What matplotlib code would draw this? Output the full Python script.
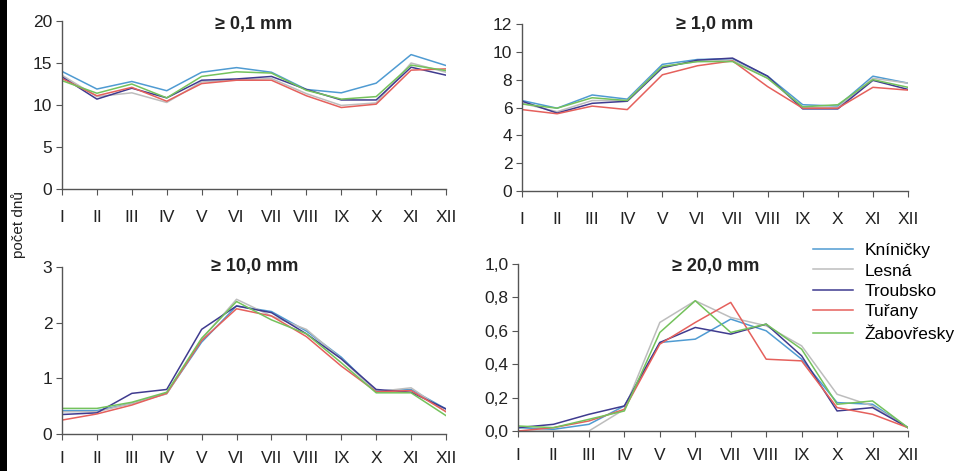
import matplotlib
matplotlib.use("Agg")
import matplotlib.pyplot as plt
from matplotlib.patches import Rectangle

plt.rcParams['font.family'] = ['Liberation Sans', 'DejaVu Sans']

months = ["I", "II", "III", "IV", "V", "VI", "VII", "VIII", "IX", "X", "XI", "XII"]
stations = ["Kníničky", "Lesná", "Troubsko", "Tuřany", "Žabovřesky"]
colors = ["#4f9bd2", "#bdbdbd", "#3f3b8f", "#e5605c", "#74c25c"]

# >= 0.1 mm
p01_kninicky = [14.0, 11.9, 12.8, 11.7, 13.9, 14.45, 13.9, 11.85, 11.45, 12.6, 16.0, 14.7]
p01_lesna = [13.55, 11.0, 11.45, 10.3, 12.75, 13.0, 13.15, 11.35, 9.95, 10.25, 15.0, 13.9]
p01_troubsko = [13.35, 10.7, 12.0, 10.85, 12.95, 13.1, 13.4, 11.85, 10.6, 10.6, 14.5, 13.55]
p01_turany = [13.15, 11.1, 12.1, 10.45, 12.55, 12.95, 12.95, 11.1, 9.7, 10.1, 14.15, 14.3]
p01_zabovresky = [12.9, 11.4, 12.5, 10.85, 13.4, 13.95, 13.8, 11.75, 10.7, 11.0, 14.75, 14.1]

# >= 1.0 mm
p1_kninicky = [6.5, 5.95, 6.9, 6.6, 9.1, 9.45, 9.5, 8.25, 6.2, 6.1, 8.25, 7.75]
p1_lesna = [6.3, 5.7, 6.5, 6.5, 8.95, 9.3, 9.4, 8.1, 6.0, 6.0, 8.1, 7.75]
p1_troubsko = [6.45, 5.6, 6.3, 6.45, 8.85, 9.4, 9.55, 8.25, 5.9, 5.9, 7.95, 7.3]
p1_turany = [5.85, 5.55, 6.1, 5.85, 8.35, 9.0, 9.35, 7.5, 5.95, 5.95, 7.45, 7.25]
p1_zabovresky = [6.25, 5.95, 6.7, 6.5, 8.95, 9.3, 9.3, 8.1, 6.05, 6.2, 8.0, 7.45]

# >= 10.0 mm
p10_kninicky = [0.42, 0.42, 0.55, 0.73, 1.65, 2.30, 2.20, 1.85, 1.38, 0.77, 0.80, 0.45]
p10_lesna = [0.40, 0.40, 0.55, 0.72, 1.70, 2.42, 2.12, 1.88, 1.35, 0.76, 0.83, 0.40]
p10_troubsko = [0.35, 0.38, 0.73, 0.80, 1.88, 2.30, 2.18, 1.80, 1.35, 0.80, 0.75, 0.45]
p10_turany = [0.25, 0.36, 0.52, 0.73, 1.68, 2.25, 2.12, 1.75, 1.22, 0.76, 0.78, 0.40]
p10_zabovresky = [0.46, 0.46, 0.57, 0.75, 1.72, 2.38, 2.05, 1.80, 1.28, 0.74, 0.74, 0.33]

# >= 20.0 mm
p20_kninicky = [0.02, 0.01, 0.04, 0.15, 0.53, 0.55, 0.67, 0.60, 0.43, 0.17, 0.16, 0.02]
p20_lesna = [0.0, 0.0, 0.0, 0.13, 0.65, 0.78, 0.68, 0.63, 0.51, 0.22, 0.15, 0.02]
p20_troubsko = [0.02, 0.04, 0.10, 0.15, 0.53, 0.62, 0.58, 0.64, 0.45, 0.12, 0.14, 0.02]
p20_turany = [0.0, 0.02, 0.06, 0.13, 0.52, 0.65, 0.77, 0.43, 0.42, 0.14, 0.10, 0.02]
p20_zabovresky = [0.03, 0.02, 0.07, 0.12, 0.59, 0.78, 0.59, 0.64, 0.49, 0.16, 0.18, 0.02]

panels = [
    ("≥ 0,1 mm", [p01_kninicky, p01_lesna, p01_troubsko, p01_turany, p01_zabovresky],
     [0, 5, 10, 15, 20], ["0", "5", "10", "15", "20"]),
    ("≥ 1,0 mm", [p1_kninicky, p1_lesna, p1_troubsko, p1_turany, p1_zabovresky],
     [0, 2, 4, 6, 8, 10, 12], ["0", "2", "4", "6", "8", "10", "12"]),
    ("≥ 10,0 mm", [p10_kninicky, p10_lesna, p10_troubsko, p10_turany, p10_zabovresky],
     [0, 1, 2, 3], ["0", "1", "2", "3"]),
    ("≥ 20,0 mm", [p20_kninicky, p20_lesna, p20_troubsko, p20_turany, p20_zabovresky],
     [0, 0.2, 0.4, 0.6, 0.8, 1.0], ["0,0", "0,2", "0,4", "0,6", "0,8", "1,0"]),
]

W, H = 955, 471
fig = plt.figure(figsize=(W / 100, H / 100), dpi=100)

# axes boxes in pixels: left, right, top, bottom ; title centre (x, y) ; x label pad
boxes = [(62, 446, 21, 189), (522, 908, 24, 191), (62, 446, 267, 434), (518, 908, 264, 431)]
title_pos = [(254, 25), (715, 24), (255, 266), (716, 266)]
xpads = [11, 11, 8, 8]

x = list(range(len(months)))
for (title, series, yt, ytl), (l, r, t, b), (tx, ty), xp in zip(panels, boxes, title_pos, xpads):
    ax = fig.add_axes([l / W, 1 - b / H, (r - l) / W, (b - t) / H])
    for name, vals, c in zip(stations, series, colors):
        ax.plot(x, vals, color=c, lw=1.1, label=name)
    ax.set_xlim(0, 11)
    ax.set_ylim(yt[0], yt[-1])
    ax.set_xticks(x)
    ax.set_xticklabels(months)
    ax.set_yticks(yt)
    ax.set_yticklabels(ytl)
    for s in ("top", "right"):
        ax.spines[s].set_visible(False)
    for s in ("left", "bottom"):
        ax.spines[s].set_color("#555555")
        ax.spines[s].set_linewidth(1.0)
    ax.tick_params(axis="x", direction="out", length=4, pad=xp, labelsize=12.5,
                   color="#555555", labelcolor="#222222")
    ax.tick_params(axis="y", direction="out", length=4, pad=3, labelsize=12.5,
                   color="#555555", labelcolor="#222222")
    fig.text(tx / W, 1 - ty / H, title, ha="center", va="center",
             fontsize=13, fontweight="bold", color="#222222")

handles, labels = fig.axes[-1].get_legend_handles_labels()
fig.legend(handles, labels, loc="upper left", bbox_to_anchor=(813 / W, 1 - 243 / H),
           frameon=False, fontsize=12.5, handlelength=2.3, handletextpad=0.65,
           labelspacing=0.3, borderpad=0, borderaxespad=0)

fig.text(19 / W, 1 - 224 / H, "počet dnů", rotation=90, ha="center", va="center",
         fontsize=11, color="#222222")

fig.patches.append(Rectangle((0, 0), 7 / W, 1, transform=fig.transFigure,
                             facecolor="black", edgecolor="none", zorder=10))

fig.savefig("out.png", dpi=100)
